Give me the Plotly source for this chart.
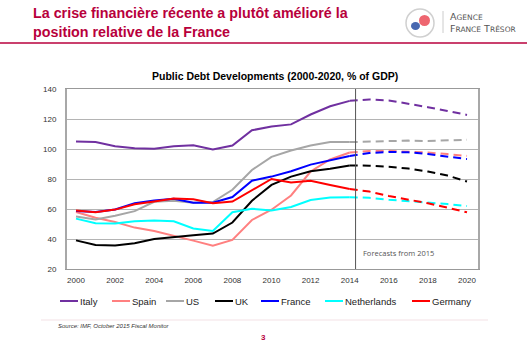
import plotly.graph_objects as go

# ---------------- data ----------------
years_hist = [2000, 2001, 2002, 2003, 2004, 2005, 2006, 2007, 2008, 2009, 2010, 2011, 2012, 2013, 2014]
years_fc = [2014, 2015, 2016, 2017, 2018, 2019, 2020]

countries = ["Italy", "Spain", "US", "UK", "France", "Netherlands", "Germany"]
colors = ["#7030A0", "#FF8080", "#A6A6A6", "#000000", "#0000FF", "#00FFFF", "#FF0000"]

italy_hist = [105.0, 104.7, 101.9, 100.5, 100.1, 101.9, 102.5, 99.7, 102.3, 112.5, 115.0, 116.4, 123.0, 128.5, 132.1]
italy_fc = [132.1, 133.0, 132.4, 130.3, 127.9, 125.4, 122.7]
spain_hist = [58.0, 54.2, 51.3, 47.6, 45.3, 42.3, 38.9, 35.5, 39.4, 52.7, 59.5, 69.0, 85.0, 93.0, 97.7]
spain_fc = [97.7, 98.6, 98.8, 98.3, 97.6, 96.6, 95.4]
us_hist = [55.0, 53.0, 55.5, 58.6, 64.8, 65.5, 64.2, 64.6, 72.8, 86.0, 94.8, 99.0, 102.3, 104.6, 104.6]
us_fc = [104.6, 104.9, 105.7, 105.6, 105.3, 105.6, 106.2]
uk_hist = [39.1, 36.0, 35.6, 37.1, 40.0, 41.5, 42.5, 43.6, 51.0, 65.5, 76.1, 81.6, 85.1, 86.8, 89.0]
uk_fc = [89.0, 88.9, 88.2, 87.0, 85.0, 82.3, 78.3]
france_hist = [58.6, 58.0, 59.7, 63.9, 65.6, 66.9, 64.2, 64.2, 68.0, 78.9, 81.6, 85.2, 89.6, 92.3, 95.4]
france_fc = [95.4, 97.3, 98.0, 97.8, 96.6, 95.0, 93.3]
netherlands_hist = [53.6, 50.5, 50.3, 51.9, 52.3, 51.8, 47.0, 45.3, 57.8, 60.2, 59.0, 61.3, 66.0, 67.6, 67.9]
netherlands_fc = [67.9, 67.5, 66.2, 65.3, 64.4, 63.3, 62.0]
germany_hist = [59.0, 57.9, 59.6, 63.2, 65.0, 67.0, 66.5, 63.9, 65.0, 72.3, 80.0, 77.6, 78.9, 76.0, 73.3]
germany_fc = [73.3, 71.6, 68.7, 66.4, 63.8, 60.9, 57.8]

hist_values = [italy_hist, spain_hist, us_hist, uk_hist, france_hist, netherlands_hist, germany_hist]
fc_values = [italy_fc, spain_fc, us_fc, uk_fc, france_fc, netherlands_fc, germany_fc]

x_tick_vals = [2000, 2002, 2004, 2006, 2008, 2010, 2012, 2014, 2016, 2018, 2020]
x_tick_text = ["2000", "2002", "2004", "2006", "2008", "2010", "2012", "2014", "2016", "2018", "2020"]
y_tick_vals = [20, 40, 60, 80, 100, 120, 140]

page_title = "La crise financière récente a plutôt amélioré la<br>position relative de la France"
chart_title = "Public Debt Developments (2000-2020, % of GDP)"
source_text = "Source: IMF, October 2015 Fiscal Monitor"
forecast_note = "Forecasts from 2015"
forecast_start = 2014
page_number = "3"

# ---------------- layout geometry ----------------
W, H = 527, 351
L, R, T, B = 67, 49, 89, 82
PW, PH = W - L - R, H - T - B


def px(x):
    return (x - L) / PW


def py(y):
    return (H - B - y) / PH


CRIMSON = "#B8003C"
fig = go.Figure()

for name, col, hv, fv in zip(countries, colors, hist_values, fc_values):
    fig.add_trace(go.Scatter(x=years_hist, y=hv, mode="lines", name=name,
                             line=dict(color=col, width=2), showlegend=False))
    fig.add_trace(go.Scatter(x=years_fc, y=fv, mode="lines", name=name,
                             line=dict(color=col, width=2, dash="8px,5px"), showlegend=False))

shapes = []
annotations = []

# forecast separator
shapes.append(dict(type="line", xref="x", yref="paper", x0=forecast_start + 0.3, x1=forecast_start + 0.3,
                   y0=0, y1=1, line=dict(color="#555555", width=1)))
annotations.append(dict(text=forecast_note, xref="paper", yref="paper", x=px(361), y=py(253),
                        xanchor="left", yanchor="middle", showarrow=False,
                        font=dict(family="Open Sans", size=7.5, color="#555555")))

# chart title
annotations.append(dict(text="<b>" + chart_title + "</b>", xref="paper", yref="paper", x=px(275), y=py(76),
                        xanchor="center", yanchor="middle", showarrow=False,
                        font=dict(family="Liberation Sans", size=10.5, color="#000000")))

# page title
annotations.append(dict(text="<b>" + page_title + "</b>", xref="paper", yref="paper", x=px(31), y=py(22),
                        xanchor="left", yanchor="middle", showarrow=False, align="left",
                        font=dict(family="Liberation Sans", size=14.3, color=CRIMSON)))
shapes.append(dict(type="line", xref="paper", yref="paper", x0=px(0), x1=px(527), y0=py(43), y1=py(43),
                   line=dict(color=CRIMSON, width=1.5)))

# logo (decorative)
shapes.append(dict(type="circle", xref="paper", yref="paper", x0=px(406), x1=px(434), y0=py(37), y1=py(9),
                   line=dict(color="#d0d0d0", width=1.5)))
shapes.append(dict(type="circle", xref="paper", yref="paper", x0=px(419), x1=px(430), y0=py(26), y1=py(15),
                   line=dict(width=0), fillcolor="#EE6670"))
shapes.append(dict(type="circle", xref="paper", yref="paper", x0=px(411), x1=px(420), y0=py(30), y1=py(22),
                   line=dict(width=0), fillcolor="#4A68B0"))
shapes.append(dict(type="line", xref="paper", yref="paper", x0=px(443), x1=px(443), y0=py(11), y1=py(33),
                   line=dict(color="#cccccc", width=1)))
annotations.append(dict(text="A<span style='font-size:7.5px'>GENCE</span>", xref="paper", yref="paper",
                        x=px(448), y=py(16), xanchor="left", yanchor="middle", showarrow=False,
                        font=dict(family="DejaVu Sans", size=9.5, color="#555555")))
annotations.append(dict(text="F<span style='font-size:7.5px'>RANCE</span> T<span style='font-size:7.5px'>RÉSOR</span>",
                        xref="paper", yref="paper",
                        x=px(448), y=py(28), xanchor="left", yanchor="middle", showarrow=False,
                        font=dict(family="DejaVu Sans", size=9.5, color="#555555")))

# manual legend
legend_line_x = [60, 112, 166, 215, 261, 325, 412]
for name, col, lx in zip(countries, colors, legend_line_x):
    shapes.append(dict(type="line", xref="paper", yref="paper", x0=px(lx), x1=px(lx + 18),
                       y0=py(301), y1=py(301), line=dict(color=col, width=2)))
    annotations.append(dict(text=name, xref="paper", yref="paper", x=px(lx + 18), y=py(301.5),
                            xanchor="left", yanchor="middle", showarrow=False,
                            font=dict(family="Liberation Sans", size=9.5, color="#222222")))

# footer
shapes.append(dict(type="line", xref="paper", yref="paper", x0=px(41), x1=px(488), y0=py(320), y1=py(320),
                   line=dict(color="#f3e1e5", width=1)))
annotations.append(dict(text="<i>" + source_text + "</i>", xref="paper", yref="paper", x=px(56), y=py(326),
                        xanchor="left", yanchor="middle", showarrow=False,
                        font=dict(family="Liberation Sans", size=6, color="#333333")))
annotations.append(dict(text="<b>" + page_number + "</b>", xref="paper", yref="paper", x=px(263), y=py(337),
                        xanchor="center", yanchor="middle", showarrow=False,
                        font=dict(family="Liberation Sans", size=8, color=CRIMSON)))

fig.update_layout(
    width=W, height=H,
    margin=dict(l=L, r=R, t=T, b=B, pad=0),
    paper_bgcolor="white", plot_bgcolor="white",
    showlegend=False,
    shapes=shapes, annotations=annotations,
    xaxis=dict(range=[2000 - 9 / 19.55, 2020 + 11 / 19.55], tickmode="array",
               tickvals=x_tick_vals, ticktext=x_tick_text, showgrid=False, zeroline=False,
               showline=True, linecolor="#999999", linewidth=1, mirror=True, ticks="",
               tickfont=dict(family="Liberation Sans", size=8, color="#333333"),
               ticklabelstandoff=3),
    yaxis=dict(range=[20, 140], tickmode="array", tickvals=y_tick_vals, showgrid=True,
               gridcolor="#b4b4b4", gridwidth=1, zeroline=False,
               showline=True, linecolor="#a8a8a8", linewidth=2, mirror=True, ticks="",
               tickfont=dict(family="Liberation Sans", size=8, color="#333333"),
               ticklabelstandoff=7),
)

fig.write_html("out.html")
